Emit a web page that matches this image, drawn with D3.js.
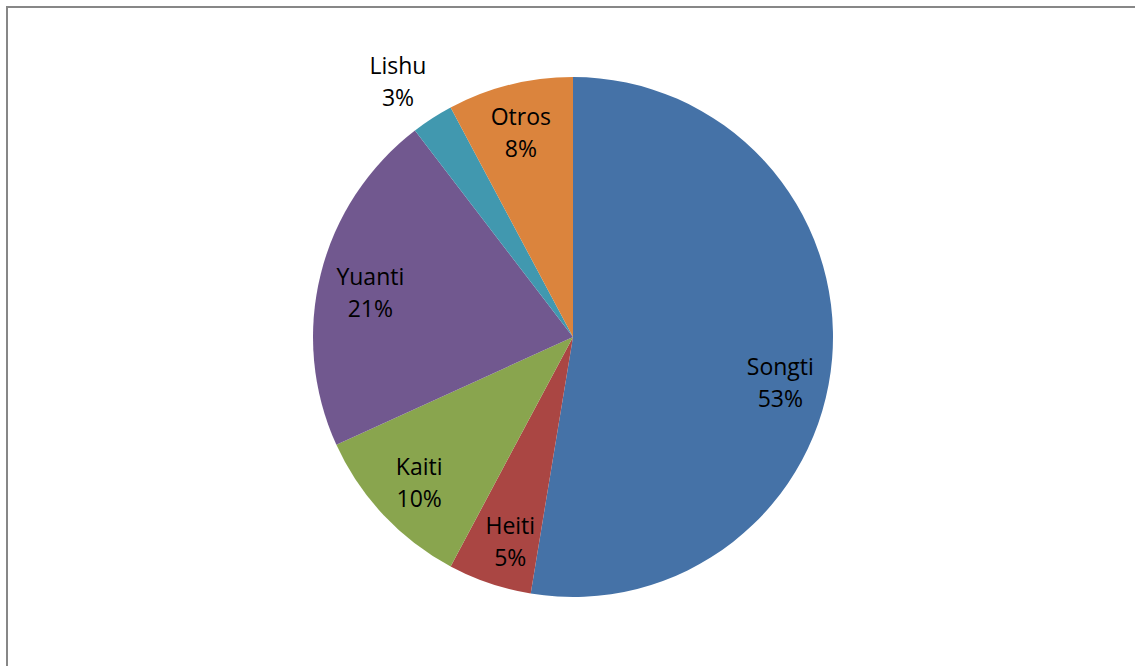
<!DOCTYPE html>
<html>
<head>
<meta charset="utf-8">
<script src="https://cdn.jsdelivr.net/npm/d3@7"></script>
<style>
  body { margin: 0; background: #fff; }
  svg { display: block; }
</style>
</head>
<body>
<div id="pie"></div>
<script>
// font families and their share
const categories = ["Songti", "Heiti", "Kaiti", "Yuanti", "Lishu", "Otros"];
const shares = [52.6, 5.2, 10.4, 21.4, 2.6, 7.8];
const colors = ["#4572A7", "#AA4643", "#89A54E", "#71588F", "#4198AF", "#DB843D"];

const width = 1135,
    height = 666,
    cx = 573,
    cy = 337,
    radius = 260;

// small label nudges, like the spreadsheet's own label placement
const nudge = {
    Songti: [-3, 29], Heiti: [5, 5], Kaiti: [0, 2],
    Yuanti: [2, 7], Lishu: [-10, 1], Otros: [-1, 1]
};

const data = categories.map((c, i) => ({ name: c, value: shares[i], color: colors[i] }));
const total = d3.sum(shares);

let svg = d3.select("#pie")
    .append("svg")
    .attr("width", width)
    .attr("height", height);

// chart area border
svg.append("rect")
    .attr("x", 7)
    .attr("y", 7)
    .attr("width", width + 20)
    .attr("height", height + 20)
    .attr("fill", "none")
    .attr("stroke", "#878787")
    .attr("stroke-width", 2);

const pie = d3.pie()
    .sort(null)
    .value(d => d.value);

const arc = d3.arc()
    .innerRadius(0)
    .outerRadius(radius);

const arcs = pie(data);

const g = svg.append("g")
    .attr("transform", `translate(${cx}, ${cy})`);

g.selectAll("path")
    .data(arcs)
    .join("path")
    .attr("d", arc)
    .attr("fill", d => d.data.color);

const inLabel = d3.arc().innerRadius(211).outerRadius(211);
const outLabel = d3.arc().innerRadius(305).outerRadius(305);

const label = g.selectAll(".label")
    .data(arcs)
    .join("text")
    .attr("class", "label")
    .attr("transform", d => {
        const p = d.data.name === "Lishu" ? outLabel.centroid(d) : inLabel.centroid(d);
        const n = nudge[d.data.name];
        return `translate(${p[0] + n[0]}, ${p[1] + n[1]})`;
    })
    .attr("text-anchor", "middle")
    .style("font-family", "'Open Sans', sans-serif")
    .style("font-size", "23px")
    .style("fill", "#000");

label.append("tspan")
    .attr("x", 0)
    .attr("y", -8)
    .text(d => d.data.name);

label.append("tspan")
    .attr("x", 0)
    .attr("y", 24)
    .text(d => Math.round(d.data.value / total * 100) + "%");
</script>
</body>
</html>
